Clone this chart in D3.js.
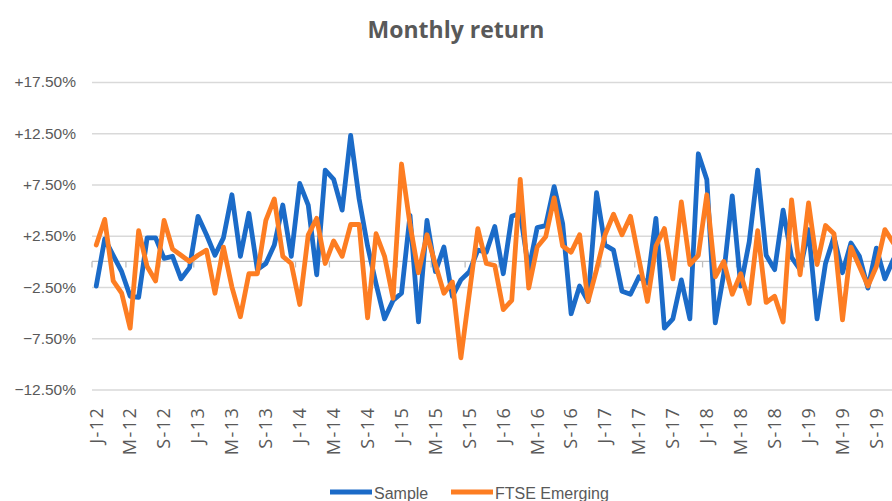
<!DOCTYPE html>
<html><head><meta charset="utf-8">
<script src="https://cdn.jsdelivr.net/npm/d3@7"></script>
<style>body{margin:0;background:#fff;overflow:hidden} svg{display:block}</style>
</head><body><svg id="c" width="892" height="501"></svg>
<script>
const title = "Monthly return";
const seriesNames = ["Sample", "FTSE Emerging"];
const seriesColors = ["#1b6bc8", "#fd7d22"];
const monthLetters = ["J","F","M","A","M","J","J","A","S","O","N","D"];
const years = ["12","13","14","15","16","17","18","19"];
const sample = [-2.4,2.2,0.6,-1.0,-3.4,-3.5,2.3,2.3,0.3,0.5,-1.7,-0.6,
  4.4,2.6,0.6,2.3,6.5,0.5,4.7,-0.8,-0.2,1.6,5.5,0.5,
  7.6,5.5,-1.3,8.9,8.0,5.0,12.3,6.1,1.5,-2.2,-5.6,-3.8,
  -3.1,4.5,-5.9,4.0,-1.0,1.4,-3.4,-1.8,-1.0,1.1,0.9,3.4,
  -1.2,4.4,4.7,-0.8,3.3,3.5,7.3,3.7,-5.1,-2.4,-3.9,6.7,
  1.6,1.1,-2.9,-3.2,-1.5,-2.1,4.2,-6.5,-5.6,-1.8,-5.6,10.5,
  8.0,-6.0,-1.2,6.4,-2.4,1.9,8.9,0.6,-0.8,5.0,0.4,-0.8,
  3.1,-5.6,-0.2,2.4,-1.1,1.8,0.5,-2.6,1.3,-1.7,0.2];
const ftse = [1.6,4.1,-1.9,-3.1,-6.5,3.0,-0.5,-1.9,4.0,1.2,0.6,0.0,
  0.6,1.1,-3.1,1.4,-2.5,-5.4,-1.2,-1.2,4.0,6.1,0.5,-0.2,
  -4.2,2.6,4.2,-0.2,2.0,0.5,3.6,3.6,-5.5,2.7,0.5,-3.6,
  9.5,3.6,-1.1,2.6,-0.3,-3.1,-2.0,-9.4,-3.1,3.2,-0.2,-0.4,
  -4.7,-3.8,8.0,-2.6,1.4,2.4,6.2,1.5,0.9,2.6,-3.9,-0.8,
  2.6,4.6,2.6,4.4,0.2,-3.9,1.5,3.2,-1.7,5.8,-0.3,0.6,
  6.5,-1.5,0.0,-3.2,-1.2,-4.1,3.0,-4.0,-3.4,-5.9,6.0,-1.3,
  5.7,-0.3,3.5,2.7,-5.7,1.4,-0.5,-2.4,-0.5,3.1,1.8];
const yTicks = [-12.5,-7.5,-2.5,2.5,7.5,12.5,17.5];
const labelEvery = 4;

const categories = [];
years.forEach(yy => monthLetters.forEach(m => categories.push(m + "-" + yy)));
categories.length = sample.length;
const series = [sample, ftse];

const svg = d3.select("#c");
const plotLeft = 92, plotTop = 82, plotBottom = 389.6;
const band = 8.48;
const plotRight = plotLeft + band * categories.length;

const x = d3.scaleBand().domain(d3.range(categories.length)).range([plotLeft, plotRight]).padding(0);
const y = d3.scaleLinear().domain([-12.5, 17.5]).range([plotBottom, plotTop]);
const cx = i => x(i) + x.bandwidth() / 2;

// title
svg.append("text").attr("x", 456).attr("y", 38).attr("text-anchor", "middle")
  .attr("font-family", "Open Sans, sans-serif").attr("font-weight", "bold")
  .attr("font-size", 23).attr("fill", "#595959").text(title);

// y gridlines + labels
const yAxis = d3.axisLeft(y).tickValues(yTicks).tickSize(-(plotRight - plotLeft)).tickPadding(16)
  .tickFormat(d => (d > 0 ? "+" : "") + d3.format(".2f")(d) + "%");
const ga = svg.append("g").attr("transform", `translate(${plotLeft},0)`).call(yAxis);
ga.select(".domain").remove();
ga.selectAll(".tick line").attr("stroke", "#d9d9d9").attr("stroke-width", 1.5);
ga.selectAll(".tick text").attr("font-family", "Liberation Sans, Arial, sans-serif")
  .attr("font-size", 15.5).attr("fill", "#595959");

// zero axis line with tick marks
svg.append("line").attr("x1", plotLeft).attr("x2", plotRight).attr("y1", y(0)).attr("y2", y(0))
  .attr("stroke", "#bfbfbf").attr("stroke-width", 1.3);
const tickIdx = d3.range(0, categories.length, labelEvery);
svg.append("g").selectAll("line").data(tickIdx).join("line")
  .attr("x1", d => x(d)).attr("x2", d => x(d)).attr("y1", y(0)).attr("y2", y(0) + 6)
  .attr("stroke", "#bfbfbf").attr("stroke-width", 1.3);

// category labels
const xAxis = d3.axisBottom(x).tickValues(tickIdx).tickSize(0).tickFormat(i => categories[i]);
const gx = svg.append("g").attr("transform", `translate(0,${plotBottom})`).call(xAxis);
gx.select(".domain").remove();
gx.selectAll(".tick text").attr("transform", "rotate(-90)").attr("text-anchor", "end")
  .attr("x", -17).attr("y", 0).attr("dy", "0.35em")
  .attr("font-family", "Open Sans, sans-serif").attr("font-size", 18)
  .attr("letter-spacing", 1.5).attr("fill", "#595959");

// lines
const line = d3.line().x((d, i) => cx(i)).y(d => y(d));
series.forEach((s, k) => {
  svg.append("path").datum(s).attr("d", line).attr("fill", "none")
    .attr("stroke", seriesColors[k]).attr("stroke-width", 4.8)
    .attr("stroke-linejoin", "round").attr("stroke-linecap", "round");
});

// legend
const legendX = [330, 451];
seriesNames.forEach((n, k) => {
  const g = svg.append("g");
  g.append("line").attr("x1", legendX[k]).attr("x2", legendX[k] + 42).attr("y1", 492).attr("y2", 492)
    .attr("stroke", seriesColors[k]).attr("stroke-width", 4.8);
  g.append("text").attr("x", legendX[k] + 44).attr("y", 499)
    .attr("font-family", "Liberation Sans, Arial, sans-serif").attr("font-size", 16)
    .attr("fill", "#595959").text(n);
});
</script></body></html>
